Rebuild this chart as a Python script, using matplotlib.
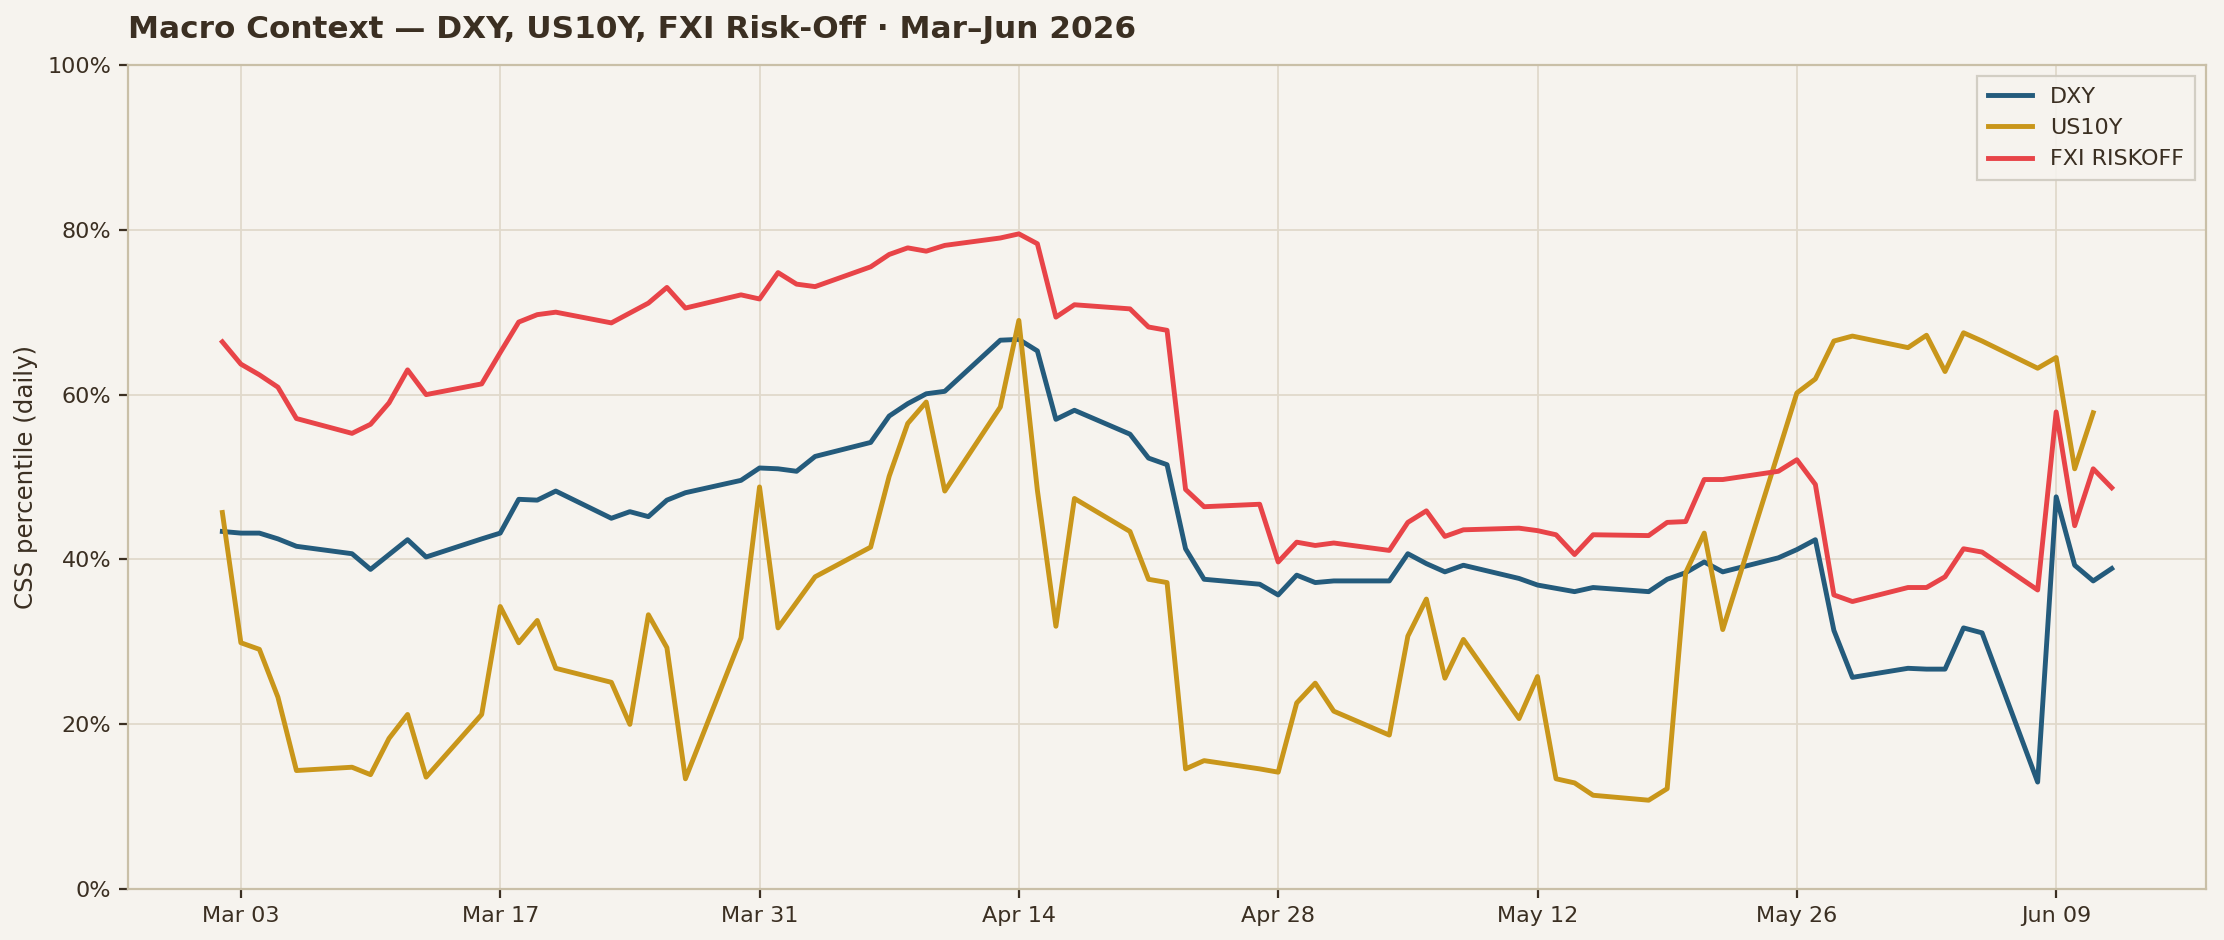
import numpy as np
import pandas as pd
import matplotlib
matplotlib.use("Agg")
import matplotlib.pyplot as plt
import matplotlib.dates as mdates
from matplotlib.ticker import PercentFormatter

# business days Mar 2 - Jun 12 2026
dates = pd.bdate_range("2026-03-02", "2026-06-12")

# CSS percentile (daily), one row per week
dxy = [
    43.4, 43.2, 43.2, 42.5, 41.6,
    40.7, 38.8, 40.6, 42.4, 40.3,
    42.5, 43.2, 47.3, 47.2, 48.3,
    45.0, 45.8, 45.2, 47.2, 48.1,
    49.6, 51.1, 51.0, 50.7, 52.5,
    54.2, 57.4, 58.9, 60.1, 60.4,
    66.6, 66.7, 65.3, 57.0, 58.1,
    55.2, 52.3, 51.5, 41.3, 37.6,
    37.0, 35.7, 38.1, 37.2, 37.4,
    37.4, 40.7, 39.5, 38.5, 39.3,
    37.7, 36.9, 36.5, 36.1, 36.6,
    36.1, 37.6, 38.4, 39.7, 38.5,
    40.2, 41.2, 42.4, 31.4, 25.7,
    26.8, 26.7, 26.7, 31.7, 31.1,
    13.0, 47.6, 39.3, 37.4, 38.9,
]
us10y = [
    45.7, 29.9, 29.1, 23.3, 14.4,
    14.8, 13.9, 18.3, 21.2, 13.6,
    21.2, 34.3, 29.9, 32.6, 26.8,
    25.1, 20.0, 33.3, 29.3, 13.4,
    30.5, 48.8, 31.7, 34.8, 37.9,
    41.5, 50.1, 56.5, 59.1, 48.3,
    58.5, 69.0, 48.4, 31.9, 47.4,
    43.4, 37.6, 37.2, 14.6, 15.6,
    14.6, 14.2, 22.6, 25.0, 21.6,
    18.7, 30.7, 35.2, 25.6, 30.3,
    20.7, 25.8, 13.4, 12.9, 11.4,
    10.8, 12.2, 38.4, 43.2, 31.5,
    53.0, 60.2, 61.9, 66.5, 67.1,
    65.7, 67.2, 62.8, 67.5, 66.5,
    63.2, 64.5, 51.0, 57.8, np.nan,
]
fxi_riskoff = [
    66.4, 63.7, 62.4, 60.9, 57.1,
    55.3, 56.4, 59.0, 63.0, 60.0,
    61.3, 65.1, 68.8, 69.7, 70.0,
    68.7, 69.9, 71.1, 73.0, 70.5,
    72.1, 71.6, 74.8, 73.4, 73.1,
    75.5, 77.0, 77.8, 77.4, 78.1,
    79.0, 79.5, 78.3, 69.4, 70.9,
    70.4, 68.2, 67.8, 48.5, 46.4,
    46.7, 39.7, 42.1, 41.7, 42.0,
    41.1, 44.5, 45.9, 42.8, 43.6,
    43.8, 43.5, 43.0, 40.6, 43.0,
    42.9, 44.5, 44.6, 49.7, 49.7,
    50.7, 52.1, 49.1, 35.7, 34.9,
    36.6, 36.6, 37.9, 41.3, 40.9,
    36.3, 57.9, 44.1, 51.0, 48.7,
]

BG = "#f6f3ee"
INK = "#3b2f22"
EDGE = "#c9bfa7"
GRID = "#e0d9cb"

fig = plt.figure(figsize=(13.9, 5.875), dpi=160, facecolor=BG)
ax = fig.add_axes([0.0575, 0.054, 0.9345, 0.877], facecolor=BG)

ax.plot(dates, dxy, color="#245b7c", lw=2.2, label="DXY")
ax.plot(dates, us10y, color="#c9961a", lw=2.2, label="US10Y")
ax.plot(dates, fxi_riskoff, color="#e84448", lw=2.2, label="FXI RISKOFF")

ax.set_ylim(0, 100)
ax.set_yticks([0, 20, 40, 60, 80, 100])
ax.yaxis.set_major_formatter(PercentFormatter(100, decimals=0))
ax.set_xticks(pd.date_range("2026-03-03", periods=8, freq="14D"))
ax.xaxis.set_major_formatter(mdates.DateFormatter("%b %d"))

ax.grid(True, color=GRID, lw=0.8)
ax.set_axisbelow(True)
for s in ax.spines.values():
    s.set_color(EDGE)
    s.set_linewidth(1.0)
ax.tick_params(colors=INK, labelsize=10, length=4, width=1.0)

ax.set_ylabel("CSS percentile (daily)", color=INK, fontsize=11)
ax.set_title("Macro Context — DXY, US10Y, FXI Risk-Off · Mar–Jun 2026",
             loc="left", fontsize=14, fontweight="bold", color=INK, pad=12)

leg = ax.legend(loc="upper right", fontsize=10, facecolor=BG, edgecolor="#cfcac0",
                framealpha=0.9, fancybox=False, borderpad=0.5, handlelength=2.0)
for t in leg.get_texts():
    t.set_color(INK)

fig.savefig("out.png", dpi=160, facecolor=BG)
